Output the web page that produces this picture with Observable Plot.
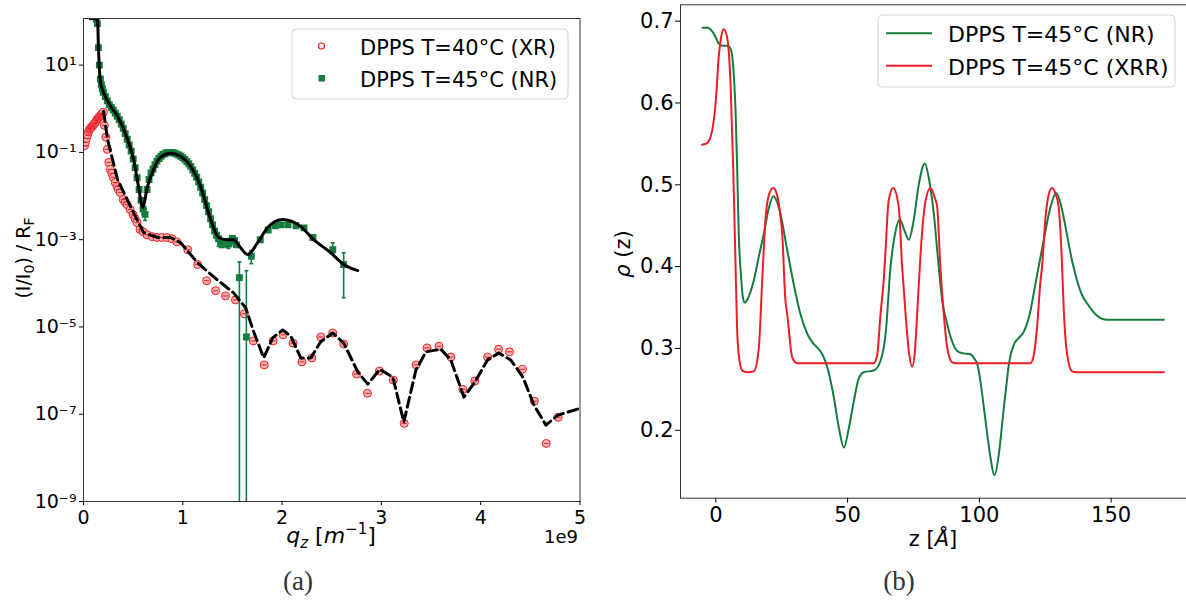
<!DOCTYPE html>
<html><head><meta charset="utf-8">
<script src="https://cdn.jsdelivr.net/npm/d3@7"></script>
<script src="https://cdn.jsdelivr.net/npm/@observablehq/plot@0.6"></script>
<style>
html,body{margin:0;padding:0;background:#fff;}
#wrap{position:relative;width:1186px;height:601px;overflow:hidden;background:#fff;}
#wrap > svg{position:absolute;top:0;}
</style></head><body><div id="wrap"></div>
<script>
// ---------- Panel (a): reflectivity, x in units of 1e9 m^-1, y stored as log10 ----------
const xrQ   = [0.01,0.02,0.03,0.04,0.05,0.06,0.07,0.08,0.09,0.10,0.11,0.12,0.13,0.14,0.15,0.16,0.17,0.18,0.19,0.20,
               0.21,0.225,0.24,0.255,0.27,0.285,0.30,0.32,0.34,0.35,0.37,0.40,0.42,0.44,0.47,0.50,0.52,0.54,0.57,0.60,
               0.64,0.69,0.74,0.79,0.84,0.89,0.94,1.05,1.15,1.24,1.33,1.43,1.53,1.62,1.71,1.82,1.91,2.01,2.11,2.20,
               2.30,2.39,2.51,2.62,2.75,2.86,2.98,3.12,3.23,3.35,3.46,3.58,3.70,3.82,3.94,4.07,4.18,4.29,4.42,4.54,4.66,4.78];
const xrLog = [-0.85,-0.77,-0.68,-0.60,-0.53,-0.48,-0.45,-0.42,-0.40,-0.37,-0.34,-0.31,-0.27,-0.24,-0.21,-0.19,-0.16,-0.13,-0.11,-0.08,
               -0.38,-0.65,-0.93,-1.23,-1.39,-1.48,-1.57,-1.69,-1.78,-1.85,-1.92,-2.08,-2.14,-2.20,-2.31,-2.43,-2.52,-2.61,-2.77,-2.82,
               -2.89,-2.93,-2.95,-2.95,-2.95,-2.98,-3.05,-3.23,-3.57,-3.94,-4.17,-4.29,-4.38,-4.70,-5.32,-5.87,-5.32,-5.18,-5.37,-5.80,
               -5.71,-5.23,-5.14,-5.39,-6.08,-6.52,-6.01,-6.22,-7.21,-5.87,-5.48,-5.44,-5.69,-6.43,-6.24,-5.69,-5.51,-5.57,-5.97,-6.70,-7.67,-7.07];

const xrFitQ   = [0.202,0.242,0.343,0.504,0.605,0.746,0.877,0.978,1.149,1.310,1.512,1.633,1.714,1.815,1.905,2.006,2.087,2.188,2.288,2.389,
                  2.510,2.621,2.762,2.863,2.984,3.115,3.226,3.347,3.448,3.599,3.700,3.831,3.942,4.073,4.183,4.304,4.425,4.536,4.657,4.778,5.01];
const xrFitLog = [-0.06,-0.70,-1.62,-2.38,-2.84,-2.95,-2.95,-3.07,-3.53,-3.85,-4.22,-4.56,-5.11,-5.71,-5.25,-5.07,-5.21,-5.71,-5.71,-5.34,
                  -5.14,-5.37,-6.03,-6.31,-5.97,-6.15,-7.18,-5.99,-5.57,-5.51,-5.76,-6.61,-6.26,-5.74,-5.60,-5.76,-6.15,-6.79,-7.25,-7.02,-6.86];

const nrQ   = [0.13,0.14,0.15,0.16,0.17,0.18,0.19,0.20,0.22,0.24,0.26,0.28,0.30,0.32,0.34,0.36,0.38,0.40,0.42,0.44,
               0.46,0.48,0.50,0.52,0.54,0.56,0.58,0.60,0.62,0.64,0.66,0.68,0.70,0.72,0.74,0.76,0.78,0.80,0.82,0.84,
               0.86,0.88,0.90,0.92,0.94,0.96,0.98,1.00,1.02,1.04,1.06,1.08,1.10,1.12,1.14,1.16,1.18,1.20,1.22,1.24,
               1.26,1.28,1.30,1.32,1.34,1.36,1.38,1.40,1.42,1.44,1.46,1.48,1.50,1.52,1.54,1.57,1.64,1.69,1.78,1.86,
               1.93,1.99,2.06,2.14,2.22,2.31,2.51,2.62];
const nrLog = [2.05,1.95,1.40,1.00,0.68,0.55,0.46,0.38,0.28,0.18,0.09,0.03,-0.03,-0.10,-0.17,-0.25,-0.35,-0.45,-0.57,-0.70,
               -0.83,-0.97,-1.15,-1.35,-1.58,-1.85,-2.10,-2.30,-2.42,-1.85,-1.62,-1.47,-1.38,-1.28,-1.20,-1.14,-1.09,-1.05,-1.03,-1.01,
               -1.00,-1.00,-1.01,-1.02,-1.04,-1.06,-1.09,-1.12,-1.16,-1.21,-1.26,-1.32,-1.40,-1.48,-1.57,-1.68,-1.80,-1.93,-2.08,-2.22,
               -2.36,-2.52,-2.66,-2.80,-2.90,-2.98,-3.05,-3.08,-3.05,-3.08,-3.10,-3.05,-2.97,-3.02,-3.12,-3.87,-5.23,-3.38,-3.00,-2.78,
               -2.68,-2.66,-2.66,-2.68,-2.73,-2.95,-3.23,-3.57];

const nrErrQ     = [0.60,0.62,1.36,1.38,1.40,1.42,1.44,1.46,1.48,1.57,1.64,1.69,2.51,2.62];
const nrErrHiLog = [-2.18,-2.30,-2.92,-2.98,-3.00,-2.98,-3.00,-3.02,-2.97,-3.51,-3.71,-3.25,-3.07,-3.30];
const nrErrLoLog = [-2.42,-2.56,-3.15,-3.18,-3.18,-3.15,-3.18,-3.20,-3.15,-12,-12,-3.55,-3.33,-4.33];

const nrFitQ   = [0.07,0.141,0.151,0.171,0.202,0.272,0.343,0.444,0.504,0.554,0.595,0.645,0.706,0.776,0.877,0.978,1.079,1.179,1.280,1.361,
                  1.44,1.512,1.58,1.653,1.754,1.855,2.006,2.188,2.319,2.490,2.621,2.762];
const nrFitLog = [2.06,2.06,1.37,0.61,0.38,0.06,-0.17,-0.70,-1.16,-1.78,-2.26,-1.78,-1.39,-1.11,-1.02,-1.09,-1.32,-1.78,-2.54,-2.95,
                  -3.00,-3.00,-3.18,-3.34,-3.07,-2.72,-2.54,-2.70,-3.00,-3.30,-3.57,-3.71];

const xTicksA = [0,1,2,3,4,5];
const yTicksA = [1e-9,1e-7,1e-5,1e-3,1e-1,1e1];
const yTickLabelsA = ["10⁻⁹","10⁻⁷","10⁻⁵","10⁻³","10⁻¹","10¹"];

// ---------- Panel (b): density profiles ----------
const nrZ   = [-5,-3,-1.5,0,1,2.5,4.5,5.5,6.2,7.0,7.5,8.1,8.7,9.6,10.3,11.0,12.0,14.4,16.5,18.2,20.0,21.8,23.0,24.5,27.1,29.6,32.1,34.7,36.5,38.5,
               40.4,42.3,44.8,46.7,48.6,50.5,52.4,54.2,56.1,59.9,62.5,64.5,66.3,68.0,69.8,71.5,73.2,75.0,77.0,79.3,81.0,82.7,84.3,85.9,87.8,89.5,91.6,94.0,96.6,98.0,
               99.2,100.5,101.7,103.0,104.2,105.7,107.4,108.4,109.3,110.3,111.2,113.0,115.0,116.8,119.4,120.6,122.5,124.4,127.0,129.1,131.0,132.0,135.2,139.0,140.9,144.7,148.5,155,170];
const nrRho = [0.692,0.692,0.688,0.680,0.673,0.670,0.670,0.667,0.658,0.625,0.590,0.521,0.440,0.387,0.362,0.356,0.360,0.383,0.415,0.440,0.470,0.486,0.481,0.465,0.420,0.378,0.342,0.318,0.308,0.301,
               0.293,0.277,0.240,0.203,0.179,0.203,0.236,0.263,0.271,0.273,0.285,0.320,0.400,0.440,0.458,0.445,0.433,0.455,0.500,0.526,0.505,0.465,0.410,0.359,0.330,0.310,0.297,0.294,0.293,0.288,
               0.281,0.258,0.228,0.195,0.167,0.145,0.171,0.200,0.228,0.256,0.281,0.304,0.313,0.320,0.346,0.367,0.400,0.432,0.473,0.490,0.475,0.460,0.407,0.365,0.355,0.340,0.335,0.335,0.335];

const xrrZ   = [-5.2,-3.3,-1.4,0,1.1,2.0,3.0,4.3,5.6,6.6,7.5,8.1,9.0,10.0,12.0,14.4,16.3,17.6,18.9,20.2,21.8,23.2,24.2,25.2,26.4,27.1,29.0,30.9,59.9,61.2,
                62.5,63.7,64.4,65.6,67.3,69.4,70.7,72.0,73.3,74.5,75.5,76.4,77.7,79.6,81.5,83.2,84.0,85.2,86.5,87.8,89.7,91.0,119.4,120.6,121.9,123.2,123.8,125.1,126.3,127.6,
                129.0,130.1,131.4,132.0,133.3,135.2,137.0,170];
const xrrRho = [0.549,0.551,0.566,0.603,0.656,0.680,0.690,0.680,0.623,0.521,0.400,0.322,0.285,0.273,0.271,0.272,0.300,0.383,0.460,0.488,0.496,0.488,0.470,0.440,0.359,0.342,0.289,0.282,0.282,0.291,
                0.342,0.383,0.420,0.481,0.496,0.473,0.400,0.342,0.295,0.278,0.295,0.342,0.416,0.481,0.496,0.483,0.473,0.400,0.342,0.301,0.283,0.282,0.282,0.291,0.326,0.383,0.400,0.460,0.488,0.496,
                0.488,0.473,0.400,0.350,0.293,0.272,0.271,0.271];

const xTicksB = [0,50,100,150];
const yTicksB = [0.2,0.3,0.4,0.5,0.6,0.7];

// ---------- styles ----------
const GREEN = "#147c3f", RED = "#ee1d25", PINK = "#f7b4b4";
const capSymbol = {draw(ctx, size){const r = Math.sqrt(size/Math.PI); ctx.moveTo(-r,0); ctx.lineTo(r,0);}};

const xr = xrQ.map((q,i)=>({q, v: Math.pow(10, xrLog[i])}));
const xrFit = xrFitQ.map((q,i)=>({q, v: Math.pow(10, xrFitLog[i])}));
const nr = nrQ.map((q,i)=>({q, v: Math.pow(10, nrLog[i])}));
const nrErr = nrErrQ.map((q,i)=>({q, hi: Math.pow(10, nrErrHiLog[i]), lo: Math.pow(10, nrErrLoLog[i])}));
const nrFit = nrFitQ.map((q,i)=>({q, v: Math.pow(10, nrFitLog[i])}));
const yLab = new Map(yTicksA.map((t,i)=>[t, yTickLabelsA[i]]));

const left = Plot.plot({
  width: 600, height: 601,
  marginLeft: 83, marginRight: 20.5, marginTop: 18, marginBottom: 100,
  style: {fontFamily: "'DejaVu Sans', sans-serif", fontSize: "19px", color: "#000", background: "transparent", overflow: "visible"},
  x: {domain: [0,5]},
  y: {type: "log", domain: [1e-9, 117]},
  marks: [
    Plot.dot(xr, {x:"q", y:"v", r:4, stroke: RED, fill: PINK, strokeWidth: 1, clip: true}),
    Plot.dot(xr, {x:"q", y:"v", r:2.6, symbol: capSymbol, stroke: RED, fill: "none", strokeWidth: 1, clip: true}),
    Plot.ruleX(nrErr, {x:"q", y1:"lo", y2:"hi", stroke: GREEN, strokeWidth: 1.6, clip: true}),
    Plot.dot(nrErr, {x:"q", y:"hi", r:2, symbol: capSymbol, stroke: GREEN, fill:"none", strokeWidth: 1.6, clip: true}),
    Plot.dot(nrErr, {x:"q", y:"lo", r:2, symbol: capSymbol, stroke: GREEN, fill:"none", strokeWidth: 1.6, clip: true}),
    Plot.dot(nr, {x:"q", y:"v", r:3.9, symbol: "square", fill: GREEN, clip: true}),
    Plot.line(nrFit, {x:"q", y:"v", stroke:"#000", strokeWidth: 3, curve: "monotone-x", clip: true}),
    Plot.line(xrFit, {x:"q", y:"v", stroke:"#000", strokeWidth: 3, strokeDasharray: "10,5", clip: true}),
    Plot.frame({stroke: "#333"}),
    Plot.axisX({ticks: xTicksA, tickFormat: d => String(d), tickSize: 4, tickPadding: 5, label: null}),
    Plot.axisY({ticks: yTicksA, tickFormat: d => yLab.get(d), tickSize: 4, tickPadding: 3, label: null})
  ]
});
left.style.left = "0px";

const nrProfile = nrZ.map((z,i)=>({z, rho: nrRho[i]}));
const xrrProfile = xrrZ.map((z,i)=>({z, rho: xrrRho[i]}));

const right = Plot.plot({
  width: 587, height: 601,
  marginLeft: 80, marginRight: 1, marginTop: 4.3, marginBottom: 103.3,
  style: {fontFamily: "'DejaVu Sans', sans-serif", fontSize: "21px", color: "#000", background: "transparent", overflow: "visible"},
  x: {domain: [-13.4, 178.6]},
  y: {domain: [0.117, 0.72]},
  marks: [
    Plot.line(nrProfile, {x:"z", y:"rho", stroke: GREEN, strokeWidth: 2, curve: "monotone-x"}),
    Plot.line(xrrProfile, {x:"z", y:"rho", stroke: RED, strokeWidth: 2, curve: "monotone-x"}),
    Plot.frame({stroke: "#333"}),
    Plot.axisX({ticks: xTicksB, tickFormat: d => String(d), tickSize: 5, tickPadding: 4, label: null}),
    Plot.axisY({ticks: yTicksB, tickFormat: d => d.toFixed(1), tickSize: 5, tickPadding: 2, label: null})
  ]
});
right.style.left = "600px";

const wrap = document.getElementById("wrap");
wrap.appendChild(left);
wrap.appendChild(right);

const NS = "http://www.w3.org/2000/svg";
const over = document.createElementNS(NS, "svg");
over.setAttribute("width", 1186); over.setAttribute("height", 601);
over.style.position = "absolute"; over.style.left = "0px"; over.style.top = "0px";
over.setAttribute("font-family", "'DejaVu Sans', sans-serif");
over.innerHTML = `
  <rect x="292" y="29" width="276" height="70" rx="4" fill="#fff" fill-opacity="0.8" stroke="#d4d4d4"/>
  <circle cx="321.5" cy="46" r="3" fill="#fff" stroke="${RED}" stroke-width="1.2"/>
  <rect x="318.5" y="75" width="6.5" height="6.5" fill="${GREEN}"/>
  <text x="360" y="55" font-size="21">DPPS T=40°C (XR)</text>
  <text x="360" y="87" font-size="21">DPPS T=45°C (NR)</text>

  <rect x="878" y="15" width="297" height="72" rx="4" fill="#fff" fill-opacity="0.8" stroke="#d4d4d4"/>
  <line x1="886" x2="932" y1="33.3" y2="33.3" stroke="${GREEN}" stroke-width="2"/>
  <line x1="886" x2="932" y1="65.7" y2="65.7" stroke="${RED}" stroke-width="2"/>
  <text x="948" y="42" font-size="22">DPPS T=45°C (NR)</text>
  <text x="948" y="75" font-size="22">DPPS T=45°C (XRR)</text>

  <text transform="translate(30,258) rotate(-90)" text-anchor="middle" font-size="19">(I/I<tspan font-size="14" dy="4">0</tspan><tspan dy="-4">) / R</tspan><tspan font-size="14" dy="4">F</tspan></text>
  <text x="331" y="543" text-anchor="middle" font-size="22"><tspan font-style="italic">q</tspan><tspan font-style="italic" font-size="15" dy="5">z</tspan><tspan dy="-5"> [</tspan><tspan font-style="italic">m</tspan><tspan font-size="15" dy="-9">−1</tspan><tspan dy="9">]</tspan></text>
  <text x="578" y="543" text-anchor="end" font-size="18">1e9</text>

  <text transform="translate(630,254) rotate(-90)" text-anchor="middle" font-size="21"><tspan font-style="italic">ρ</tspan> (z)</text>
  <text x="933" y="546" text-anchor="middle" font-size="21">z [<tspan font-style="italic">Å</tspan>]</text>

  <text x="298" y="590" text-anchor="middle" font-size="27" font-family="'Liberation Serif', serif" fill="#333">(a)</text>
  <text x="899" y="590" text-anchor="middle" font-size="27" font-family="'Liberation Serif', serif" fill="#333">(b)</text>
`;
wrap.appendChild(over);
</script></body></html>
